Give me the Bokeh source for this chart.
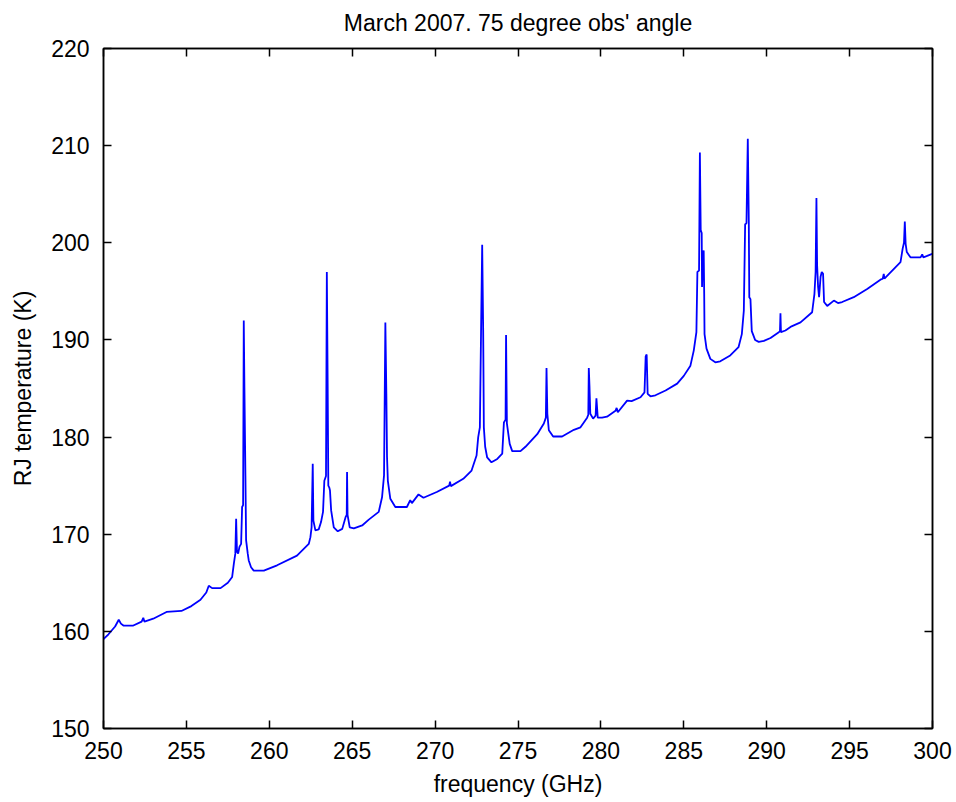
from bokeh.plotting import figure
from bokeh.models import Range1d, LinearAxis, SingleIntervalTicker, CustomJSTickFormatter
from bokeh.embed import file_html
from bokeh.resources import INLINE

# --- data ---
freq_ghz = [
    250.0, 250.3, 250.7, 250.92, 251.05, 251.2, 251.8, 252.3, 252.4, 252.47,
    253.0, 253.8, 254.7, 255.3, 255.85, 256.2, 256.35, 256.55, 257.06, 257.5,
    257.76, 257.86, 257.95, 258.0, 258.05, 258.12, 258.2, 258.3, 258.36, 258.42,
    258.46, 258.5, 258.56, 258.6, 258.7, 258.76, 258.9, 259.06, 259.67, 260.47,
    261.67, 262.38, 262.48, 262.55, 262.62, 262.66, 262.78, 262.98, 263.12, 263.24,
    263.32, 263.42, 263.47, 263.52, 263.56, 263.62, 263.66, 263.73, 263.89, 264.13,
    264.4, 264.6, 264.67, 264.69, 264.72, 264.85, 265.1, 265.6, 266.0, 266.6,
    266.8, 266.92, 267.0, 267.06, 267.1, 267.15, 267.3, 267.6, 268.3, 268.5,
    268.6, 269.0, 269.3, 270.1, 270.85, 270.9, 270.95, 271.7, 272.2, 272.5,
    272.6, 272.7, 272.78, 272.84, 272.9, 272.94, 273.02, 273.14, 273.4, 273.75,
    274.05, 274.15, 274.25, 274.28, 274.33, 274.5, 274.65, 275.15, 275.45, 276.16,
    276.56, 276.68, 276.72, 276.77, 276.86, 277.12, 277.66, 278.37, 278.77, 279.17,
    279.24, 279.27, 279.31, 279.36, 279.53, 279.68, 279.73, 279.81, 280.07, 280.37,
    280.88, 280.95, 281.02, 281.58, 281.85, 282.39, 282.63, 282.7, 282.76, 282.82,
    282.99, 283.29, 283.9, 284.6, 285.0, 285.4, 285.6, 285.76, 285.82, 285.92,
    285.97, 286.02, 286.08, 286.1, 286.15, 286.2, 286.23, 286.25, 286.37, 286.6,
    286.9, 287.2, 287.8, 288.3, 288.5, 288.62, 288.7, 288.78, 288.86, 288.92,
    288.95, 289.02, 289.1, 289.3, 289.52, 289.83, 290.23, 290.73, 290.8, 290.83,
    290.86, 291.13, 291.5, 292.04, 292.74, 292.88, 292.95, 293.0, 293.04, 293.1,
    293.16, 293.25, 293.32, 293.4, 293.46, 293.65, 294.05, 294.3, 294.55, 295.25,
    296.06, 296.86, 297.0, 297.06, 297.1, 298.07, 298.2, 298.28, 298.33, 298.38,
    298.45, 298.67, 299.28, 299.38, 299.45, 299.98, 300.0,
]
rj_temp_k = [
    159.2, 159.7, 160.5, 161.2, 160.8, 160.6, 160.6, 161.0, 161.4, 161.0,
    161.3, 162.0, 162.1, 162.6, 163.25, 164.0, 164.7, 164.45, 164.45, 165.0,
    165.6, 166.95, 168.0, 171.6, 168.2, 168.0, 168.7, 169.0, 172.8, 173.0,
    192.0, 185.0, 176.0, 169.4, 168.0, 167.3, 166.6, 166.25, 166.25, 166.8,
    167.8, 169.0, 169.7, 170.7, 177.25, 171.4, 170.4, 170.5, 171.25, 172.3,
    175.5, 176.0, 197.0, 185.5, 175.0, 174.8, 174.5, 172.45, 170.7, 170.3,
    170.55, 171.75, 172.0, 176.4, 172.0, 170.7, 170.6, 170.9, 171.5, 172.3,
    173.8, 176.05, 191.8, 184.45, 178.0, 175.5, 173.65, 172.8, 172.8, 173.5,
    173.2, 174.1, 173.75, 174.35, 175.0, 175.4, 174.95, 175.7, 176.55, 178.1,
    180.0, 181.0, 192.0, 199.8, 191.0, 181.0, 179.0, 177.9, 177.4, 177.75,
    178.3, 181.5, 181.8, 190.5, 181.4, 179.3, 178.55, 178.55, 179.0, 180.3,
    181.4, 182.0, 187.1, 182.4, 180.7, 180.06, 180.06, 180.75, 181.0, 182.0,
    182.3, 187.1, 185.3, 182.4, 181.9, 182.2, 184.0, 182.0, 182.0, 182.1,
    182.7, 183.0, 182.55, 183.75, 183.7, 184.1, 184.6, 188.3, 188.5, 184.45,
    184.2, 184.3, 184.8, 185.5, 186.3, 187.35, 188.9, 190.8, 197.0, 197.15,
    209.3, 201.3, 201.0, 195.45, 199.0, 199.2, 194.75, 190.6, 189.1, 188.05,
    187.7, 187.8, 188.4, 189.25, 190.6, 193.0, 201.9, 202.0, 210.7, 202.3,
    194.4, 194.2, 190.9, 190.0, 189.8, 189.9, 190.2, 190.8, 190.9, 192.75,
    190.8, 190.97, 191.4, 191.8, 192.85, 194.75, 197.0, 204.6, 197.7, 195.45,
    194.4, 196.5, 197.0, 196.8, 193.9, 193.5, 194.05, 193.8, 193.9, 194.4,
    195.25, 196.2, 196.3, 196.8, 196.3, 198.0, 199.4, 200.0, 202.2, 199.9,
    199.05, 198.5, 198.5, 198.8, 198.5, 198.85, 198.85,
]

title_text = "March 2007. 75 degree obs' angle"
x_label = "frequency (GHz)"
y_label = "RJ temperature (K)"

FONT = "Liberation Sans"
FS = "23px"

p = figure(
    width=956, height=802,
    output_backend="svg", toolbar_location=None,
    x_range=Range1d(250, 300), y_range=Range1d(150, 220),
    min_border_left=103, min_border_right=24,
    min_border_top=48, min_border_bottom=74,
    title=title_text,
)
p.background_fill_color = "white"
p.border_fill_color = "white"
p.outline_line_color = "black"
p.outline_line_width = 1.5
p.xgrid.visible = False
p.ygrid.visible = False

p.title.align = "center"
p.title.vertical_align = "top"
p.title.text_line_height = 0.7
p.title.text_font = FONT
p.title.text_font_size = FS
p.title.text_font_style = "normal"
p.title.text_color = "black"
p.title.standoff = 14

p.line(freq_ghz, rj_temp_k, line_color="#0000FF", line_width=1.8)

p.xaxis.ticker = SingleIntervalTicker(interval=5)
p.yaxis.ticker = SingleIntervalTicker(interval=10)

for ax in (p.xaxis[0], p.yaxis[0]):
    ax.major_tick_in = 8
    ax.major_tick_out = 0
    ax.minor_tick_line_color = None
    ax.axis_line_width = 1.5
    ax.major_tick_line_width = 1.5
    ax.major_label_text_font = FONT
    ax.major_label_text_font_size = FS
    ax.major_label_text_color = "black"
    ax.axis_label_text_font = FONT
    ax.axis_label_text_font_size = FS
    ax.axis_label_text_font_style = "normal"
    ax.axis_label_text_color = "black"

p.xaxis.axis_label = x_label
p.yaxis.axis_label = y_label
p.xaxis.major_label_standoff = 9
p.xaxis.axis_label_standoff = 9
p.yaxis.major_label_standoff = 10
p.yaxis.axis_label_standoff = 12

top = LinearAxis(ticker=SingleIntervalTicker(interval=5))
right = LinearAxis(ticker=SingleIntervalTicker(interval=10))
for ax in (top, right):
    ax.major_tick_in = 8
    ax.major_tick_out = 0
    ax.minor_tick_line_color = None
    ax.axis_line_width = 1.5
    ax.major_tick_line_width = 1.5
    ax.formatter = CustomJSTickFormatter(code="return '';")
    ax.major_label_standoff = 0
p.add_layout(top, "above")
p.add_layout(right, "right")

open("out.html", "w").write(file_html(p, INLINE))
